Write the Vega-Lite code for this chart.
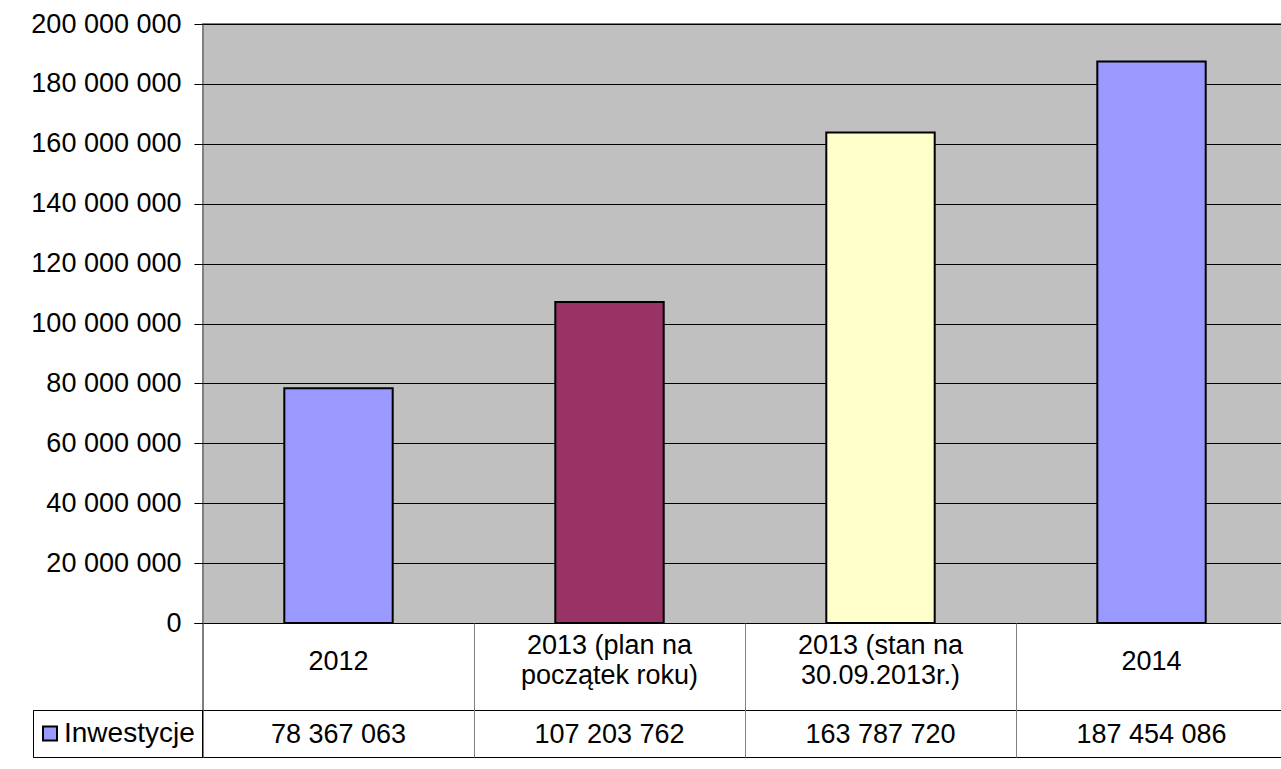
{
  "$schema": "https://vega.github.io/schema/vega-lite/v6.json",
  "autosize": "none",
  "padding": {"left": 203, "top": 24, "right": -6, "bottom": 12},
  "width": 1084,
  "height": 733,
  "background": "white",
  "config": {
    "locale": {"number": {"decimal": ",", "thousands": " ", "grouping": [3], "currency": ["", " zł"]}},
    "view": {"fill": "#C0C0C0", "stroke": "#808080", "strokeWidth": 2},
    "font": "Liberation Sans",
    "text": {"font": "Liberation Sans"}
  },
  "data": {
    "values": [
      {"kategoria": "2012", "etykieta": "2012", "inwestycje": 78367063},
      {"kategoria": "2013 (plan na początek roku)", "etykieta": "2013 (plan na\npoczątek roku)", "inwestycje": 107203762},
      {"kategoria": "2013 (stan na 30.09.2013r.)", "etykieta": "2013 (stan na\n30.09.2013r.)", "inwestycje": 163787720},
      {"kategoria": "2014", "etykieta": "2014", "inwestycje": 187454086}
    ]
  },
  "resolve": {"axis": {"y": "independent"}},
  "layer": [
    {
      "mark": {"type": "rect", "fill": "white"},
      "encoding": {
        "y": {
          "datum": -44720000,
          "type": "quantitative",
          "scale": {"domain": [-44720000, 200000000], "nice": false, "zero": false},
          "axis": {
            "orient": "left",
            "values": [-44720000, -29030000, 0],
            "labels": false,
            "domain": false,
            "grid": true,
            "gridColor": "black",
            "gridWidth": 1,
            "tickColor": "black",
            "tickSize": {"condition": {"test": "datum.value < 0", "value": 170}, "value": 9},
            "zindex": 1,
            "title": null
          }
        },
        "y2": {"datum": 0}
      }
    },
    {
      "mark": {"type": "bar", "stroke": "black", "strokeWidth": 2, "width": {"band": 0.4}},
      "encoding": {
        "x": {
          "field": "kategoria",
          "type": "nominal",
          "sort": null,
          "scale": {"paddingInner": 0, "paddingOuter": 0},
          "axis": {
            "orient": "bottom",
            "labels": false,
            "domain": false,
            "ticks": true,
            "tickBand": "extent",
            "tickSize": -134,
            "tickColor": "#808080",
            "tickWidth": 1,
            "zindex": 1,
            "title": null
          }
        },
        "y": {
          "field": "inwestycje",
          "type": "quantitative",
          "scale": {"domain": [-44720000, 200000000], "nice": false, "zero": false},
          "axis": {
            "orient": "left",
            "values": [0, 20000000, 40000000, 60000000, 80000000, 100000000, 120000000, 140000000, 160000000, 180000000, 200000000],
            "labelExpr": "format(datum.value, ',d')",
            "domain": false,
            "grid": true,
            "gridColor": "black",
            "gridWidth": 1,
            "tickColor": "black",
            "tickSize": 9,
            "labelPadding": 13,
            "labelFont": "Liberation Sans",
            "labelFontSize": 27,
            "labelColor": "black",
            "zindex": 0,
            "title": null
          }
        },
        "y2": {"datum": 0},
        "color": {
          "field": "kategoria",
          "type": "nominal",
          "sort": null,
          "scale": {
            "domain": ["2012", "2013 (plan na początek roku)", "2013 (stan na 30.09.2013r.)", "2014"],
            "range": ["#9999FF", "#993366", "#FFFFCC", "#9999FF"]
          },
          "legend": {
            "values": ["2012"],
            "labelExpr": "'Inwestycje'",
            "orient": "none",
            "legendX": -170,
            "legendY": 686,
            "title": null,
            "symbolType": "square",
            "symbolSize": 196,
            "symbolStrokeColor": "black",
            "symbolStrokeWidth": 2,
            "symbolOpacity": 1,
            "symbolOffset": -4,
            "labelFont": "Liberation Sans",
            "labelFontSize": 28,
            "labelColor": "black",
            "labelOffset": 0,
            "clipHeight": 33,
            "padding": 7,
            "strokeColor": "black",
            "fillColor": "white"
          }
        }
      }
    },
    {
      "transform": [{"filter": "indexof(datum.etykieta, '\\n') < 0"}],
      "mark": {"type": "text", "fontSize": 27, "font": "Liberation Sans", "color": "black", "baseline": "middle", "align": "center"},
      "encoding": {
        "x": {"field": "kategoria", "type": "nominal", "sort": null},
        "y": {"datum": -13000000, "type": "quantitative", "scale": {"domain": [-44720000, 200000000], "nice": false, "zero": false}},
        "text": {"field": "etykieta"}
      }
    },
    {
      "transform": [{"filter": "indexof(datum.etykieta, '\\n') >= 0"}],
      "mark": {"type": "text", "fontSize": 27, "font": "Liberation Sans", "color": "black", "baseline": "middle", "align": "center", "lineBreak": "\n", "lineHeight": 30},
      "encoding": {
        "x": {"field": "kategoria", "type": "nominal", "sort": null},
        "y": {"datum": -7700000, "type": "quantitative", "scale": {"domain": [-44720000, 200000000], "nice": false, "zero": false}},
        "text": {"field": "etykieta"}
      }
    },
    {
      "mark": {"type": "text", "fontSize": 27, "font": "Liberation Sans", "color": "black", "baseline": "middle", "align": "center"},
      "encoding": {
        "x": {"field": "kategoria", "type": "nominal", "sort": null},
        "y": {"datum": -37400000, "type": "quantitative", "scale": {"domain": [-44720000, 200000000], "nice": false, "zero": false}},
        "text": {"field": "inwestycje", "type": "quantitative", "format": ",d"}
      }
    }
  ]
}
